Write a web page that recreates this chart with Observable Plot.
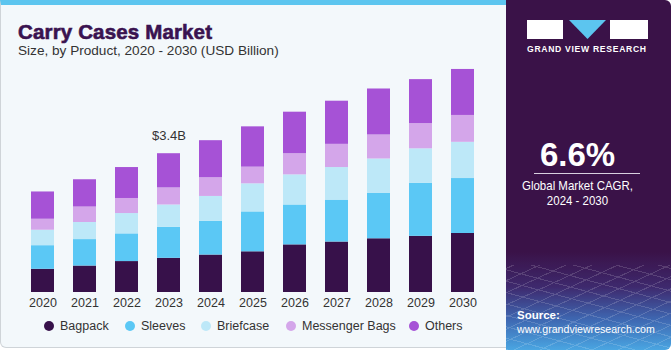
<!DOCTYPE html>
<html>
<head>
<meta charset="utf-8">
<script src="https://cdn.jsdelivr.net/npm/d3@7"></script>
<script src="https://cdn.jsdelivr.net/npm/@observablehq/plot@0.6"></script>
<style>
  html, body { margin: 0; padding: 0; background: #ffffff; }
  body { width: 671px; height: 350px; position: relative; overflow: hidden; font-family: "Liberation Sans", Arial, sans-serif; }
  #card { position: absolute; left: 0; top: 0; width: 520px; height: 348px; background: #f3f8fb; border: 1px solid #cfd4d8; border-top: 5px solid #5cc5ef; border-radius: 0 0 6px 6px; box-sizing: border-box; }
  #title { position: absolute; left: 17px; top: 15px; font-size: 20.5px; font-weight: 900; color: #3a1350; -webkit-text-stroke: 0.6px #3a1350; letter-spacing: 0.15px; }
  #subtitle { position: absolute; left: 17px; top: 38px; font-size: 13.6px; color: #333; }
  #chart { position: absolute; left: 0; top: 60px; }
  #legend { position: absolute; top: 319px; left: 0; font-size: 12.5px; color: #333; }
  .li { position: absolute; white-space: nowrap; }
  .dot { position: absolute; width: 10px; height: 10px; border-radius: 50%; top: 2px; }
  #panel { position: absolute; left: 506px; top: 0; width: 165px; height: 350px; border-radius: 0 6px 6px 0;
    background: linear-gradient(to bottom, #3a1248 0%, #3a1248 72%, #3f2a6e 82%, #3f66b0 91%, #4aa6e2 100%); overflow: hidden; }
  #grid { position: absolute; left: 0; top: 265px; width: 165px; height: 85px; opacity: 0.15;
    background-image: repeating-linear-gradient(15deg, #fff 0 1px, transparent 1px 11px), repeating-linear-gradient(-25deg, #fff 0 1px, transparent 1px 11px); }
  .box { position: absolute; background: #fff; top: 20px; height: 19px; }
  #gvr { position: absolute; left: 21px; top: 44px; font-size: 8.6px; font-weight: bold; color: #fff; letter-spacing: 0.7px; white-space: nowrap; }
  #cagr { position: absolute; left: 0; width: 143px; text-align: center; top: 136px; font-size: 33px; font-weight: bold; color: #fff; }
  #rule { position: absolute; left: 28px; width: 106px; top: 173px; height: 1px; background: #d8d0e0; }
  #cagrtxt { position: absolute; left: 0; width: 143px; text-align: center; top: 179px; font-size: 13.5px; line-height: 14.5px; color: #fff; transform: scaleX(0.85); transform-origin: 71.5px 0; }
  #src { position: absolute; left: 11px; top: 308px; font-size: 10.6px; color: #fff; line-height: 14px; }
  #src b { font-size: 11.5px; }
</style>
</head>
<body>
<div id="card">
  <div id="title">Carry Cases Market</div>
  <div id="subtitle">Size, by Product, 2020 - 2030 (USD Billion)</div>
</div>
<div id="chart"></div>
<div id="legend"></div>
<div id="panel">
  <div id="grid"></div>
  <div class="box" style="left:21px;width:36px;"></div>
  <svg style="position:absolute;left:63px;top:20px" width="38" height="19"><polygon points="0,0 37,0 18.5,19" fill="#5cc5ef"/></svg>
  <div class="box" style="left:104px;width:38px;"></div>
  <div id="gvr">GRAND VIEW RESEARCH</div>
  <div id="cagr">6.6%</div>
  <div id="rule"></div>
  <div id="cagrtxt">Global Market CAGR,<br>2024 - 2030</div>
  <div id="src"><b>Source:</b><br>www.grandviewresearch.com</div>
</div>
<script>
const years = ["2020","2021","2022","2023","2024","2025","2026","2027","2028","2029","2030"];
const products = ["Bagpack","Sleeves","Briefcase","Messenger Bags","Others"];
const colors = ["#37114a","#5bc8f5","#bde8f8","#d4a6ea","#a652d6"];
const bagpack   = [0.57,0.65,0.76,0.84,0.92,1.00,1.17,1.24,1.32,1.38,1.45];
const sleeves   = [0.58,0.65,0.68,0.76,0.83,0.98,0.98,1.03,1.12,1.30,1.35];
const briefcase = [0.38,0.42,0.50,0.55,0.61,0.69,0.74,0.80,0.84,0.85,0.89];
const messenger = [0.27,0.38,0.37,0.42,0.46,0.41,0.52,0.57,0.59,0.62,0.66];
const others    = [0.67,0.67,0.76,0.84,0.91,0.99,1.02,1.06,1.13,1.08,1.13];
const annotationYear = "2023";
const annotationText = "$3.4B";

const series = [bagpack, sleeves, briefcase, messenger, others];
const rows = [];
series.forEach((vals, i) => years.forEach((y, j) => rows.push({year: y, product: products[i], value: vals[j]})));
const annTotal = d3.sum(series, s => s[years.indexOf(annotationYear)]);

const chart = Plot.plot({
  width: 505,
  height: 250,
  marginTop: 0,
  marginBottom: 18,
  marginLeft: 12,
  marginRight: 12,
  style: {background: "transparent", fontFamily: "Liberation Sans, Arial, sans-serif", fontSize: "12.5px", color: "#333"},
  x: {domain: years, padding: 0.45, label: null, tickSize: 0, tickPadding: 5.5},
  y: {domain: [0, 5.7], axis: null},
  color: {domain: products, range: colors},
  marks: [
    Plot.barY(rows, {x: "year", y: "value", fill: "product", order: products}),
    Plot.text([{year: annotationYear, total: annTotal, label: annotationText}], {x: "year", y: "total", text: "label", dy: -18, fontSize: 13, fill: "#333"})
  ]
});
document.getElementById("chart").appendChild(chart);

const legendPos = [44, 125, 201, 286, 409];
const legend = document.getElementById("legend");
products.forEach((p, i) => {
  const d = document.createElement("div");
  d.className = "li";
  d.style.left = legendPos[i] + "px";
  d.innerHTML = `<span class="dot" style="background:${colors[i]}"></span><span style="margin-left:16px">${p}</span>`;
  legend.appendChild(d);
});
</script>
</body>
</html>
